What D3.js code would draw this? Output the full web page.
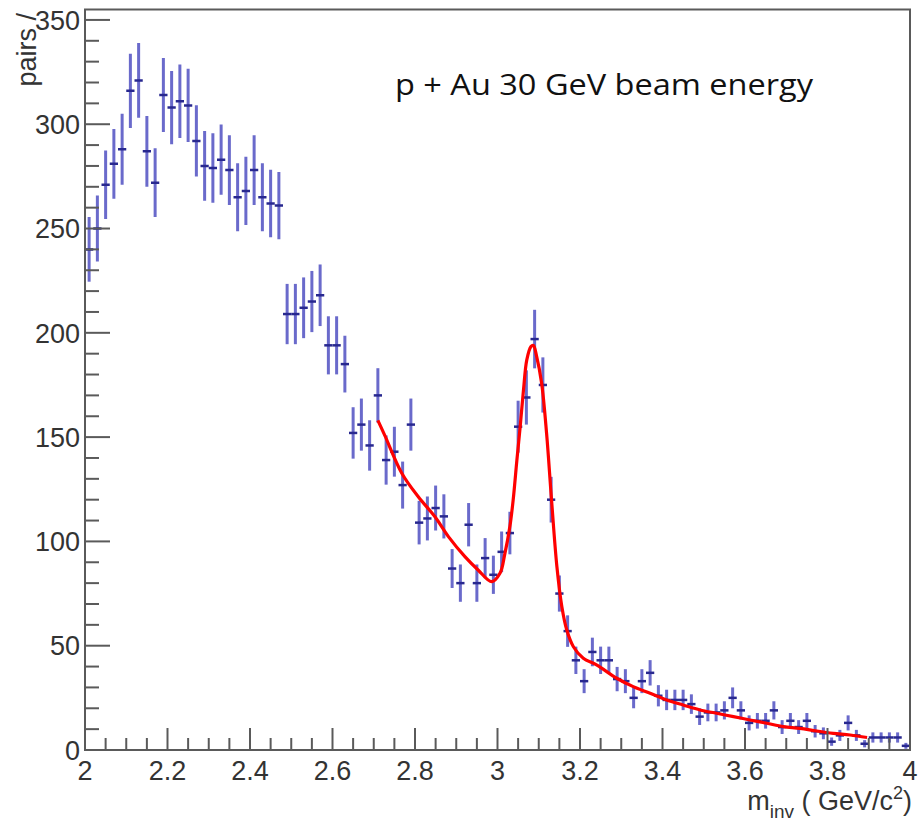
<!DOCTYPE html>
<html>
<head>
<meta charset="utf-8">
<script src="https://cdn.jsdelivr.net/npm/d3@7"></script>
<style>
  body { margin: 0; background: #fff; }
  text { font-family: "Liberation Sans", Arial, sans-serif; fill: #333; }
</style>
</head>
<body>
<div class="canvas"></div>
<script>
// histogram: 100 bins of 0.02 GeV from 2 to 4
const binLow = 2.0;
const binWidth = 0.02;
const counts = [
  240, 250, 271, 281, 288, 316, 321, 287, 272, 314,
  308, 311, 309, 292, 280, 279, 283, 278, 265, 268,
  278, 265, 262, 261, 209, 209, 212, 215, 218, 194,
  194, 185, 152, 156, 146, 170, 139, 143, 127, 156,
  109, 111, 116, 112, 87, 80, 108, 80, 92, 84,
  95, 104, 155, 169, 197, 175, 120, 75, 57, 43,
  33, 47, 43, 43, 34, 33, 25, 33, 37, 26,
  24, 24, 24, 22, 16, 18, 18, 19, 25, 19,
  13, 14, 14, 19, 11, 14, 11, 14, 9, 8,
  4, 7, 13, 7, 3, 6, 6, 6, 6, 2
];

// fitted curve
const fitX = [2.710, 2.727, 2.768, 2.808, 2.848, 2.881, 2.921, 2.953, 2.986, 3.006,
  3.018, 3.030, 3.038, 3.047, 3.055, 3.063, 3.071, 3.081, 3.087, 3.095,
  3.107, 3.119, 3.131, 3.144, 3.156, 3.168, 3.184, 3.208, 3.240, 3.289,
  3.329, 3.370, 3.410, 3.450, 3.491, 3.531, 3.572, 3.612, 3.653, 3.693,
  3.733, 3.774, 3.814, 3.855, 3.896];
const fitY = [158, 150.7, 132.7, 121.4, 111.9, 102.3, 92.7, 86.3, 80.7, 84.7,
  94.3, 107.1, 119.9, 139, 155, 172.6, 187, 193.4, 193.9, 188.6,
  175.8, 151.8, 119.9, 87.9, 68.7, 57.5, 49.5, 44.0, 40.8, 34.4,
  30.4, 27.2, 24.0, 21.6, 19.2, 17.6, 16.0, 14.4, 12.8, 11.2,
  10.4, 9.1, 8.0, 7.2, 6.0];

const xTicks = [2, 2.2, 2.4, 2.6, 2.8, 3, 3.2, 3.4, 3.6, 3.8, 4];
const yTicks = [0, 50, 100, 150, 200, 250, 300, 350];
const title = 'p + Au 30 GeV beam energy';

const dims = { width: 921, height: 824 };
const plot = { left: 85, right: 910, top: 9.5, bottom: 750 };

const svg = d3.select('.canvas')
  .append('svg')
  .attr('width', dims.width)
  .attr('height', dims.height);

const x = d3.scaleLinear().domain([2, 4]).range([plot.left, plot.right]);
const y = d3.scaleLinear().domain([0, 355]).range([plot.bottom, plot.top]);

svg.append('clipPath').attr('id', 'clip')
  .append('rect')
  .attr('x', plot.left).attr('y', plot.top)
  .attr('width', plot.right - plot.left)
  .attr('height', plot.bottom - plot.top);

const bins = counts.map((c, i) => ({
  lo: binLow + i * binWidth,
  hi: binLow + (i + 1) * binWidth,
  mid: binLow + (i + 0.5) * binWidth,
  n: c,
  err: Math.sqrt(c) // Poisson error of a bin count
}));

const marks = svg.append('g').attr('clip-path', 'url(#clip)');

// vertical error bars
marks.selectAll('line.ev')
  .data(bins)
  .enter().append('line')
    .attr('class', 'ev')
    .attr('x1', d => x(d.mid)).attr('x2', d => x(d.mid))
    .attr('y1', d => y(d.n - d.err)).attr('y2', d => y(d.n + d.err))
    .attr('stroke', '#6a6acb')
    .attr('stroke-width', 3);

// horizontal bin-width bars
marks.selectAll('line.eh')
  .data(bins)
  .enter().append('line')
    .attr('class', 'eh')
    .attr('x1', d => x(d.lo)).attr('x2', d => x(d.hi))
    .attr('y1', d => y(d.n)).attr('y2', d => y(d.n))
    .attr('stroke', '#28288f')
    .attr('stroke-width', 2.5);

// fit curve
const fitLine = d3.line()
  .x(d => x(d[0]))
  .y(d => y(d[1]))
  .curve(d3.curveCatmullRom);

marks.append('path')
  .datum(fitX.map((v, i) => [v, fitY[i]]))
  .attr('d', fitLine)
  .attr('fill', 'none')
  .attr('stroke', '#ff0000')
  .attr('stroke-width', 3.2)
  .attr('stroke-linejoin', 'round');

// frame
svg.append('rect')
  .attr('x', plot.left).attr('y', plot.top)
  .attr('width', plot.right - plot.left)
  .attr('height', plot.bottom - plot.top)
  .attr('fill', 'none')
  .attr('stroke', '#5a5a5a')
  .attr('stroke-width', 2);

// ticks
const axisColor = '#5a5a5a';
const xMinor = d3.range(0, 41).map(i => 2 + i * 0.05);
svg.append('g').selectAll('line')
  .data(xMinor)
  .enter().append('line')
    .attr('x1', d => x(d)).attr('x2', d => x(d))
    .attr('y1', plot.bottom)
    .attr('y2', (d, i) => plot.bottom - (i % 4 === 0 ? 22 : 12))
    .attr('stroke', axisColor)
    .attr('stroke-width', 2);

const yMinor = d3.range(0, 36).map(i => i * 10);
svg.append('g').selectAll('line')
  .data(yMinor)
  .enter().append('line')
    .attr('x1', plot.left)
    .attr('x2', (d, i) => plot.left + (i % 5 === 0 ? 25 : 14))
    .attr('y1', d => y(d)).attr('y2', d => y(d))
    .attr('stroke', axisColor)
    .attr('stroke-width', 2);

// tick labels
svg.append('g').selectAll('text')
  .data(xTicks)
  .enter().append('text')
    .attr('x', d => x(d))
    .attr('y', 780)
    .attr('text-anchor', 'middle')
    .attr('font-size', 27)
    .text(d => d3.format('~g')(d));

svg.append('g').selectAll('text')
  .data(yTicks)
  .enter().append('text')
    .attr('x', 80)
    .attr('y', d => y(d))
    .attr('dy', '0.36em')
    .attr('text-anchor', 'end')
    .attr('font-size', 27)
    .text(d => d);

// axis titles
const xt = svg.append('text')
  .attr('x', 912)
  .attr('y', 810)
  .attr('text-anchor', 'end')
  .attr('font-size', 27);
xt.append('tspan').text('m');
xt.append('tspan').attr('font-size', 19).attr('dy', 8).text('inv');
xt.append('tspan').attr('dy', -8).text(' ( GeV/c');
xt.append('tspan').attr('font-size', 18).attr('dy', -11).text('2');
xt.append('tspan').attr('dy', 11).text(')');

svg.append('text')
  .attr('transform', 'translate(36, 13) rotate(-90)')
  .attr('text-anchor', 'end')
  .attr('font-size', 27)
  .text('pairs /');

// annotation
svg.append('text')
  .attr('x', 395)
  .attr('y', 95)
  .attr('font-size', 29)
  .attr('textLength', 418)
  .attr('lengthAdjust', 'spacingAndGlyphs')
  .style('font-family', '"Open Sans", "Noto Sans", sans-serif')
  .style('fill', '#111')
  .text(title);
</script>
</body>
</html>
